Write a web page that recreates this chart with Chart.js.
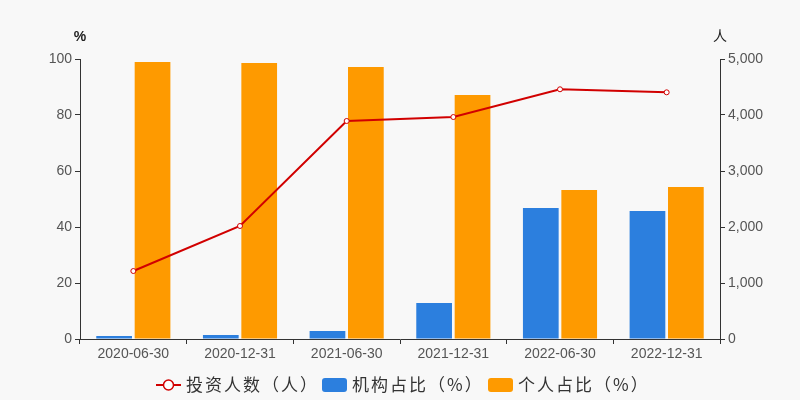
<!DOCTYPE html>
<html><head><meta charset="utf-8">
<script src="https://cdn.jsdelivr.net/npm/chart.js@4.4.1/dist/chart.umd.min.js"></script>
<style>html,body{margin:0;padding:0;background:#f8f8f8;}canvas{display:block;}</style>
</head><body>
<canvas id="c" width="800" height="400"></canvas>
<script>
const categories = ['2020-06-30','2020-12-31','2021-06-30','2021-12-31','2022-06-30','2022-12-31'];
const investors = [1214, 2018, 3893, 3964, 4459, 4405];
const institutionPct = [1.1, 1.4, 2.9, 12.9, 46.8, 45.7];
const individualPct = [98.9, 98.6, 97.1, 87.1, 53.2, 54.3];
const seriesNames = ['投资人数（人）', '机构占比（%）', '个人占比（%）'];
const leftTicks = {min: 0, max: 100, step: 20};
const rightTicks = {min: 0, max: 5000, step: 1000};

const RED = '#d10000', BLUE = '#2c7fde', ORANGE = '#fe9a00';
const FONT = 'Arial, "Liberation Sans", "Noto Sans CJK SC", sans-serif';
const TICK = '#555';

const bgPlugin = {
  id: 'bg',
  beforeDraw(chart) {
    const ctx = chart.ctx;
    ctx.save(); ctx.fillStyle = '#f8f8f8'; ctx.fillRect(0, 0, chart.width, chart.height); ctx.restore();
  },
  afterDraw(chart) {
    const ctx = chart.ctx;
    const a = chart.chartArea;
    ctx.save();
    ctx.fillStyle = '#222';
    ctx.font = 'bold 14px ' + FONT;
    ctx.textAlign = 'center'; ctx.textBaseline = 'middle';
    ctx.fillText('%', a.left, 37);
    ctx.font = '14px ' + FONT;
    ctx.fillText('人', a.right, 37);
    // legend
    const y = 385;
    ctx.font = '17px "Noto Sans CJK SC", sans-serif';
    ctx.textAlign = 'left';
    if ('letterSpacing' in ctx) ctx.letterSpacing = '2px';
    let x = 156;
    ctx.strokeStyle = RED; ctx.lineWidth = 2;
    ctx.beginPath(); ctx.moveTo(x, y); ctx.lineTo(x + 25, y); ctx.stroke();
    ctx.beginPath(); ctx.arc(x + 12.5, y, 5, 0, Math.PI * 2); ctx.fillStyle = '#fff'; ctx.fill();
    ctx.lineWidth = 1.5; ctx.stroke();
    ctx.fillStyle = '#333';
    ctx.fillText(seriesNames[0], x + 30, y);
    x = 322;
    ctx.fillStyle = BLUE; roundRect(ctx, x, y - 7, 25, 14, 3); ctx.fill();
    ctx.fillStyle = '#333'; ctx.fillText(seriesNames[1], x + 30, y);
    x = 488;
    ctx.fillStyle = ORANGE; roundRect(ctx, x, y - 7, 25, 14, 3); ctx.fill();
    ctx.fillStyle = '#333'; ctx.fillText(seriesNames[2], x + 30, y);
    ctx.restore();
  }
};
function roundRect(ctx, x, y, w, h, r) {
  ctx.beginPath();
  ctx.moveTo(x + r, y); ctx.lineTo(x + w - r, y); ctx.quadraticCurveTo(x + w, y, x + w, y + r);
  ctx.lineTo(x + w, y + h - r); ctx.quadraticCurveTo(x + w, y + h, x + w - r, y + h);
  ctx.lineTo(x + r, y + h); ctx.quadraticCurveTo(x, y + h, x, y + h - r);
  ctx.lineTo(x, y + r); ctx.quadraticCurveTo(x, y, x + r, y); ctx.closePath();
}

new Chart(document.getElementById('c'), {
  data: {
    labels: categories,
    datasets: [
      {type: 'line', label: seriesNames[0], data: investors, yAxisID: 'yR', borderColor: RED, borderWidth: 2,
       pointRadius: 2.5, pointBackgroundColor: '#fff', pointBorderColor: RED, pointBorderWidth: 1, tension: 0, order: 0},
      {type: 'bar', label: seriesNames[1], data: institutionPct, yAxisID: 'yL', backgroundColor: BLUE,
       categoryPercentage: 0.72, barPercentage: 0.93, order: 1},
      {type: 'bar', label: seriesNames[2], data: individualPct, yAxisID: 'yL', backgroundColor: ORANGE,
       categoryPercentage: 0.72, barPercentage: 0.93, order: 1}
    ]
  },
  options: {
    responsive: false, animation: false,
    layout: {padding: {top: 59, left: 0, right: 0, bottom: 0}},
    plugins: {legend: {display: false}, tooltip: {enabled: false}},
    scales: {
      x: {
        offset: true,
        grid: {offset: true, drawOnChartArea: false, drawTicks: true, tickLength: 5, color: '#333'},
        border: {color: '#333', width: 1},
        ticks: {color: TICK, font: {size: 14, family: FONT}, padding: 2, maxRotation: 0, autoSkip: false},
        afterFit(s) { s.height = 61; }
      },
      yL: {
        position: 'left', min: leftTicks.min, max: leftTicks.max,
        grid: {drawOnChartArea: false, drawTicks: true, tickLength: 5, color: '#333'},
        border: {color: '#333', width: 1},
        ticks: {stepSize: leftTicks.step, color: TICK, font: {size: 14, family: FONT}, padding: 3},
        afterFit(s) { s.width = 80; }
      },
      yR: {
        position: 'right', min: rightTicks.min, max: rightTicks.max,
        grid: {drawOnChartArea: false, drawTicks: true, tickLength: 5, color: '#333'},
        border: {color: '#333', width: 1},
        ticks: {stepSize: rightTicks.step, color: TICK, font: {size: 14, family: FONT}, padding: 3},
        afterFit(s) { s.width = 80; }
      }
    }
  },
  plugins: [bgPlugin]
});
</script>
</body></html>
